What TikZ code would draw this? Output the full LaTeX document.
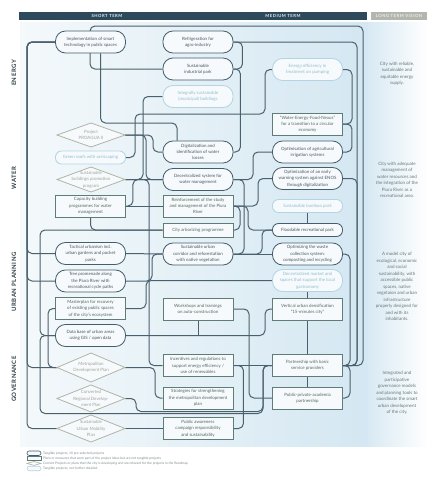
\documentclass[tikz,border=0pt]{standalone}
\usepackage{fontspec}
\setmainfont{Lato}
\usetikzlibrary{calc}
\definecolor{navy}{HTML}{2C4A5C}
\definecolor{greybar}{HTML}{B3B6AC}
\definecolor{bgl}{HTML}{F4F9FB}
\definecolor{bgr}{HTML}{D4E7F2}
\definecolor{pillc}{HTML}{465E6B}
\definecolor{rectc}{HTML}{5F7D76}
\definecolor{lightc}{HTML}{B2D4E3}
\definecolor{diac}{HTML}{B2B4A6}
\definecolor{nfill}{HTML}{F6FAFC}
\definecolor{ptext}{HTML}{4A585E}
\definecolor{rtext}{HTML}{55675E}
\definecolor{ltext}{HTML}{94BCCD}
\definecolor{dtext}{HTML}{A2A496}
\definecolor{linkc}{HTML}{4A606C}
\definecolor{lttext}{HTML}{687A74}
\definecolor{sect}{HTML}{2E3D44}
\definecolor{legc}{HTML}{7D8C8C}
\pgfdeclarelayer{bg}
\pgfdeclarelayer{cn}
\pgfsetlayers{bg,cn,main}
\newcommand\nf{\fontsize{4.4}{6.3}\selectfont}
\newcommand\hdfont{\fontsize{4.2}{5}\selectfont\bfseries\addfontfeature{LetterSpace=12}}
\newcommand\secfont{\fontsize{6}{7}\selectfont\bfseries\addfontfeature{LetterSpace=8}}
\newcommand\mydia[5]{%
  \filldraw[draw=diac, fill=nfill, line width=0.8pt] (#2-34,#3) -- (#2,#3-#4/2) -- (#2+34,#3) -- (#2,#3+#4/2) -- cycle;
  \node[diat, minimum height=#4pt] (#1) at (#2,#3) {#5};}
\begin{document}
\begin{tikzpicture}[x=1pt,y=-1pt,
  pill/.style={draw=pillc, line width=0.85pt, fill=nfill, rounded corners=10pt, minimum width=70pt, minimum height=22pt, inner sep=0.5pt, align=center, font=\nf, text=ptext},
  spill/.style={pill, minimum height=13pt, rounded corners=6pt},
  lpill/.style={pill, draw=lightc, text=ltext},
  slpill/.style={spill, draw=lightc, text=ltext},
  rectn/.style={draw=rectc, line width=0.85pt, fill=nfill, minimum width=70pt, minimum height=22pt, inner sep=0.5pt, align=center, font=\nf, text=rtext},
  srect/.style={rectn, minimum height=14pt},
  diat/.style={minimum width=68pt, inner sep=0pt, align=center, font=\nf, text=dtext},
  ltv/.style={align=center, font=\fontsize{4.5}{6.5}\selectfont, text=lttext},
  hd/.style={font=\hdfont, text=white!90!navy},
  sec/.style={font=\secfont, text=sect, rotate=90},
  legtext/.style={anchor=west, font=\fontsize{3.3}{4}\selectfont, text=legc, inner sep=0pt},
  link/.style={draw=linkc, line width=1pt, rounded corners=5pt}]
\useasboundingbox (0,0) rectangle (441,480);
\begin{pgfonlayer}{bg}
\fill[white] (0,0) rectangle (441,480);
\shade[left color=bgl, right color=bgr] (20,22) rectangle (368,446);
\shade[left color=bgr!90!white, right color=white] (368,22) rectangle (428,446);
\fill[navy] (19,12) rectangle (367,20);
\fill[greybar] (371,12) rectangle (427,20);
\end{pgfonlayer}
% headers
\node[hd] (h1) at (107,16) {SHORT TERM};
\node[hd] (h2) at (283,16) {MEDIUM TERM};
\node[hd] (h3) at (399,16) {LONG TERM VISION};
\node[sec] (s1) at (14,73) {ENERGY};
\node[sec] (s2) at (14,178) {WATER};
\node[sec] (s3) at (14,282) {URBAN PLANNING};
\node[sec] (s4) at (14,379) {GOVERNANCE};
% energy
\node[pill] (smart) at (90.5,42) {Implementation of smart\\technology in public spaces};
\node[pill] (refrig) at (198,42) {Refrigeration for\\agro-industry};
\node[pill] (indpark) at (198,69) {Sustainable\\industrial park};
\node[lpill] (integ) at (198,96.5) {Integrally sustainable\\(municipal) buildings};
\node[lpill] (enereff) at (307.5,69.5) {Energy efficiency in\\treatment on pumping};
% water
\node[rectn] (wefn) at (307.5,124) {“Water-Energy-Food-Nexus”\\for a transition to a circular\\economy};
\mydia{proagua}{91}{135}{24}{Project\\PROAGUA II}
\node[pill] (digit) at (198,152) {Digitalization and\\identification of water\\losses};
\node[pill] (optagr) at (307.5,152) {Optimisation of agricultural\\irrigation systems};
\node[slpill] (green) at (90.5,157.5) {Green roofs with xeriscaping};
\mydia{susbuild}{91}{179.5}{25}{Sustainable\\buildings promotion\\program}
\node[pill] (decsys) at (198,179.5) {Decentralized system for\\water management};
\node[pill] (early) at (307.5,178.5) {Optimization of an early\\warning system against ENOS\\through digitalization};
\node[rectn] (capacity) at (90.5,206) {Capacity building\\programmes for water\\management};
\node[rectn] (reinf) at (198,206) {Reinforcement of the study\\and management of the Piura\\River};
\node[slpill] (bamboo) at (307.5,206) {Sustainable bamboo park};
% urban planning
\node[srect] (arbor) at (198,230) {City arborizing programme};
\node[spill] (flood) at (307.5,230) {Floodable recreational park};
\node[pill] (tactical) at (90.5,253.5) {Tactical urbanism incl.\\urban gardens and pocket\\parks};
\node[pill] (corridor) at (198,254) {Sustainable urban\\corridor and reforestation\\with native vegetation};
\node[pill] (waste) at (307.5,254) {Optimizing the waste\\collection system:\\composting and recycling};
\node[pill] (tree) at (90.5,281) {Tree promenade along\\the Piura River with\\recreational cycle paths};
\node[lpill] (market) at (307.5,280.5) {Decentralized market and\\spaces that support the local\\gastronomy};
\node[rectn] (master) at (90.5,308.5) {Masterplan for recovery\\of existing public spaces\\of the city’s ecosystem};
\node[rectn] (workshop) at (198,309) {Workshops and trainings\\on auto-construction};
\node[rectn] (vertical) at (307.5,309) {Vertical urban densification\\“15-minutes city”};
\node[pill] (database) at (90.5,335.5) {Data base of urban areas\\using GIS / open data};
% governance
\mydia{metro}{91}{367.5}{29}{Metropolitan\\Development Plan}
\node[rectn] (incent) at (198,365.5) {Incentives and regulations to\\support energy efficiency /\\use of renewables};
\node[rectn] (partner) at (307.5,365.5) {Partnership with basic\\service providers};
\mydia{converted}{91}{398.5}{27}{Converted\\Regional Develop-\\ment Plan}
\node[rectn] (strat) at (198,398) {Strategies for strengthening\\the metropolitan development\\plan};
\node[rectn] (ppp) at (307.5,398) {Public-private-academia\\partnership};
\mydia{sump}{91}{428.5}{27}{Sustainable\\Urban Mobility\\Plan}
\node[rectn] (aware) at (198,428.5) {Public awareness\\campaign responsibility\\and sustainability};
% long term vision
\node[ltv] (v1) at (397,73.5) {City with reliable,\\sustainable and\\equitable energy\\supply.};
\node[ltv] (v2) at (397,180) {City with adequate\\management of\\water resources and\\the integration of the\\Piura River as a\\recreational area.};
\node[ltv] (v3) at (397,286.5) {A model city of\\ecological, economic\\and social\\sustainability, with\\accessible public\\spaces, native\\vegetaion and urban\\infrastructure\\properly designed for\\and with its\\inhabitants.};
\node[ltv] (v4) at (397,393) {Integrated and\\participative\\governance models\\and planning tools to\\coordinate the smart\\urban development\\of the city.};
% legend
\node[pill, minimum width=14pt, minimum height=4.5pt, rounded corners=2.2pt, inner sep=0pt, line width=0.6pt] (lg1) at (34,453.2) {};
\node[rectn, minimum width=14pt, minimum height=4.5pt, inner sep=0pt, line width=0.6pt] (lg2) at (34,458.3) {};
\filldraw[draw=diac, fill=nfill, line width=0.6pt] (27,463.4) -- (34,461.4) -- (41,463.4) -- (34,465.4) -- cycle;
\node[lpill, minimum width=14pt, minimum height=4.5pt, rounded corners=2.2pt, inner sep=0pt, line width=0.6pt] (lg4) at (34,468.5) {};
\node[legtext] (lt1) at (43,453.2) {Tangible projects, 10 pre-selected projects};
\node[legtext] (lt2) at (43,458.3) {Plans or measures that were part of the project ideas but are not tangible projects};
\node[legtext] (lt3) at (43,463.4) {Current Projects or plans that the city is developing and are relevant for the projects in the Roadmap};
\node[legtext] (lt4) at (43,468.5) {Tangible projects, not further detailed};
% connectors
\begin{pgfonlayer}{cn}
\draw[link] (indpark.west) -| (90,26) -| (363,365.5) -- (partner.east);
\draw[link] (smart.west) -| (27,367.5) -- (metro.west);
\draw[link] ($(smart.south)+(10,0)$) |- (177,123) -- ($(digit.north)+(-21,0)$);
\draw[link] (refrig.east) -| (357,365.5) -- (partner.east);
\draw[link] (refrig.east) -| ($(indpark.east)+(9,0)$) -- (indpark.east);
\draw[link] (indpark.east) -| ($(digit.east)+(7,0)$) -- (digit.east);
\draw[link] (integ.west) -| (143,179.5) -- (susbuild.east);
\draw[link] (enereff.west) -| (265,114) -| (135,157.5) -- (green.east);
\draw[link] (enereff.east) -| (352,124) -- (wefn.east);
\draw[link] (proagua.east) -| (153,152) -- (digit.west);
\draw[link] (proagua.east) -| (146,179.5) -- (decsys.west);
\draw[link] (capacity.east) -- ++(7,0) |- (decsys.west);
\draw[link] (capacity.east) -- (reinf.west);
\draw[link] (susbuild.east) -| (149,365.5) -- (incent.west);
\draw[link] (wefn.east) -| ($(optagr.east)+(9,0)$) -- (optagr.east);
\draw[link] (optagr.west) -| (253,179.5) -- (decsys.east);
\draw[link] (reinf.east) -| (258,178.5) -- (early.west);
\draw[link] (early.east) -| (357,365.5) -- (partner.east);
\draw[link] (decsys.east) -| (244,254) -- (corridor.east);
\draw[link] (reinf.east) -| (248,230) -- (flood.west);
\draw[link] (arbor.east) -| (240,206) -- (reinf.east);
\draw[link] (bamboo.south) -- (flood.north);
\draw[link] (capacity.south) |- (arbor.west);
\draw[link] (arbor.west) -| (40,335.5) -- (database.west);
\draw[link] (smart.west) -| (27,253.5) -- (tactical.west);
\draw[link] (smart.west) -| (27,281) -- (tree.west);
\draw[link] (smart.west) -| (27,428.5) -- (sump.west);
\draw[link] (tactical.east) -- (corridor.west);
\draw[link] (tree.east) -| (152,254) -- (corridor.west);
\draw[link] (market.west) -| (146,308.5) -- (master.east);
\draw[link] (corridor.east) -- (waste.west);
\draw[link] (corridor.east) -| (262,230) -- (flood.west);
\draw[link] (database.east) -| (265,309) -- (vertical.west);
\draw[link] (workshop.south) -- (workshop.south |- database.east);
\draw[link] (workshop.east) -| (249,398) -- (ppp.west);
\draw[link] (market.south) -- (vertical.north);
\draw[link] (waste.east) -| (350,365.5) -- (partner.east);
\draw[link] (master.west) -| (48,367.5) -- (metro.west);
\draw[link] (metro.east) -| (155,398) -- (strat.west);
\draw[link] (converted.east) -| (136,411.5) -| (263,365.5) -- (partner.west);
\draw[link] (database.west) -| (40,413.5) -| (263,365.5) -- (partner.west);
\draw[link] (sump.east) -- (aware.west);
\draw[link] (incent.east) -| ($(aware.east)+(10,0)$) -- (aware.east);
\draw[link] (incent.east) -- (partner.west);
\draw[link] (partner.south) -- (ppp.north);
\draw[link] (ppp.east) -| (350,365.5) -- (partner.east);
\draw[link] (vertical.south) -- (partner.north);
\end{pgfonlayer}
\end{tikzpicture}
\end{document}
